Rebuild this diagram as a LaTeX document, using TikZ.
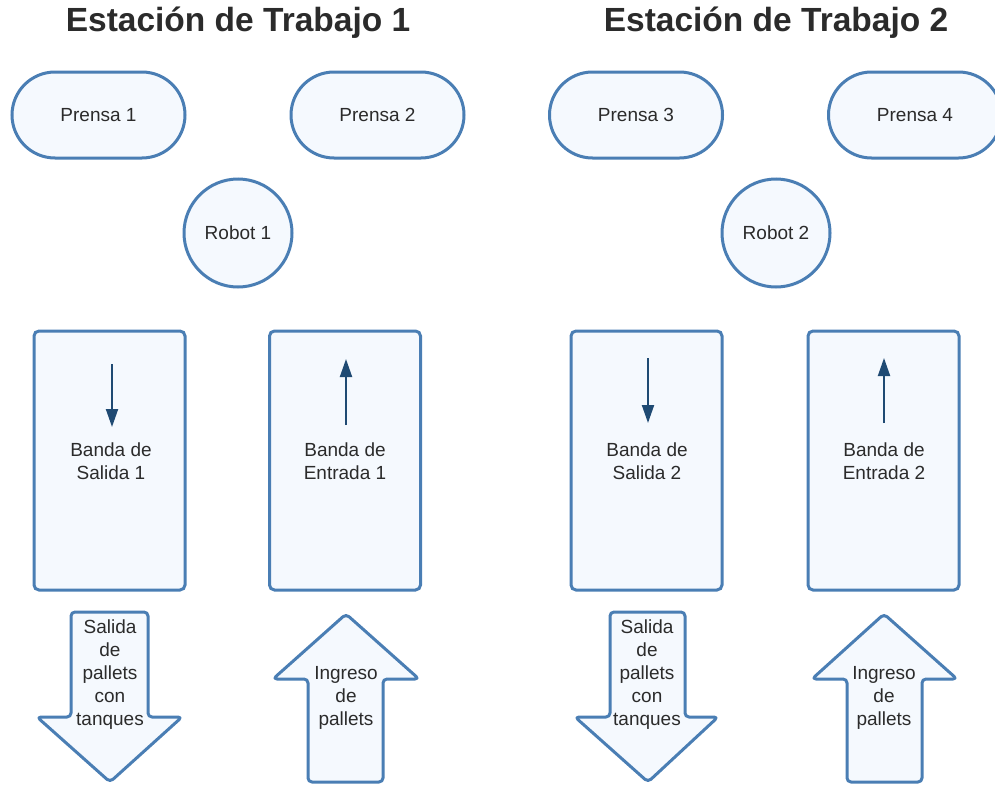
\documentclass[tikz,border=0pt]{standalone}
\usepackage{fontspec}
\setmainfont{Liberation Sans}
\usetikzlibrary{arrows.meta}
\definecolor{edge}{HTML}{4A7EB4}
\definecolor{fillc}{HTML}{F5F9FE}
\definecolor{navy}{HTML}{1F4A73}
\definecolor{txt}{HTML}{2B2B2B}
\tikzset{
  shp/.style={draw=edge, fill=fillc, line width=3pt},
  press/.style={shp, minimum width=173pt, minimum height=86pt, rounded corners=43pt, text=txt, font=\fontsize{19}{22}\selectfont},
  robot/.style={shp, circle, minimum size=108pt, text=txt, font=\fontsize{19}{22}\selectfont},
  band/.style={shp, minimum width=151pt, minimum height=259pt, rounded corners=5pt},
  lbl/.style={text=txt, align=center, font=\fontsize{19}{23}\selectfont, inner sep=0pt},
  title/.style={text=txt, font=\bfseries\fontsize{33.5}{38}\selectfont},
  flow/.style={draw=navy, line width=2pt, -{Triangle[width=12pt,length=18pt]}},
  block/.style={shp, rounded corners=4pt, line join=round}
}
\begin{document}
\begin{tikzpicture}[x=1pt,y=-1pt]
\useasboundingbox (0,0) rectangle (995,784);
\clip (0,0) rectangle (995,784);

\node[title] (t1) at (238,23) {Estación de Trabajo 1};
\node[title] (t2) at (776,23) {Estación de Trabajo 2};

\node[press] (p1) at (98.5,115) {Prensa 1};
\node[press] (p2) at (377.5,115) {Prensa 2};
\node[press] (p3) at (636,115) {Prensa 3};
\node[press] (p4) at (915,115) {Prensa 4};

\node[robot] (r1) at (238,233) {Robot 1};
\node[robot] (r2) at (776,233) {Robot 2};

\node[band] (b1) at (109.5,460.5) {};
\node[band] (b2) at (345,460.5) {};
\node[band] (b3) at (646.5,460.5) {};
\node[band] (b4) at (883.5,460.5) {};

\node[lbl] (lb1) at (111,461) {Banda de\\Salida 1};
\node[lbl] (lb2) at (345,461) {Banda de\\Entrada 1};
\node[lbl] (lb3) at (647,461) {Banda de\\Salida 2};
\node[lbl] (lb4) at (884,461) {Banda de\\Entrada 2};

\coordinate (a1s) at (112,364); \coordinate (a1e) at (112,427);
\coordinate (a2s) at (346,425); \coordinate (a2e) at (346,359);
\coordinate (a3s) at (648,358); \coordinate (a3e) at (648,423);
\coordinate (a4s) at (884,423); \coordinate (a4e) at (884,358);
\draw[flow] (a1s) -- (a1e);
\draw[flow] (a2s) -- (a2e);
\draw[flow] (a3s) -- (a3e);
\draw[flow] (a4s) -- (a4e);

% down block arrows
\draw[block] (71,612) -- (148,612) -- (148,717) -- (182,717) -- (110,782) -- (37,717) -- (71,717) -- cycle;
\draw[block] (610,612) -- (685,612) -- (685,717) -- (718,717) -- (648,782) -- (575,717) -- (610,717) -- cycle;
% up block arrows
\draw[block] (346,614) -- (419,679) -- (383,679) -- (383,782) -- (308,782) -- (308,679) -- (273,679) -- cycle;
\draw[block] (884,614) -- (957,679) -- (922,679) -- (922,782) -- (847,782) -- (847,679) -- (812,679) -- cycle;

\node[lbl] (s1) at (110,675) {Salida\\de\\pallets\\con\\tanques};
\node[lbl] (s2) at (647,675) {Salida\\de\\pallets\\con\\tanques};
\node[lbl] (i1) at (346,698) {Ingreso\\de\\pallets};
\node[lbl] (i2) at (884,698) {Ingreso\\de\\pallets};
\end{tikzpicture}
\end{document}
